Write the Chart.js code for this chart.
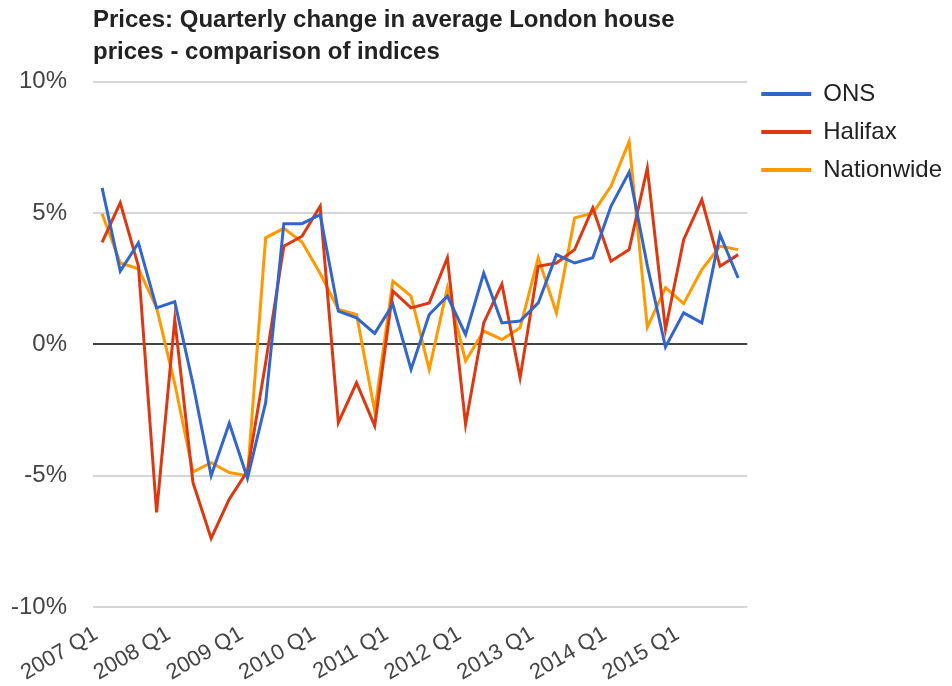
<!DOCTYPE html>
<html>
<head>
<meta charset="utf-8">
<script src="https://cdn.jsdelivr.net/npm/chart.js@4.4.1/dist/chart.umd.min.js"></script>
<style>
  html, body { margin: 0; padding: 0; background: #fff; }
  #wrap { width: 952px; height: 686px; position: relative; }
</style>
</head>
<body>
<div id="wrap"><canvas id="chart"></canvas></div>
<script>
// --- DATA ---

const quarters = [
    '2007 Q1', '2007 Q2', '2007 Q3', '2007 Q4',
    '2008 Q1', '2008 Q2', '2008 Q3', '2008 Q4',
    '2009 Q1', '2009 Q2', '2009 Q3', '2009 Q4',
    '2010 Q1', '2010 Q2', '2010 Q3', '2010 Q4',
    '2011 Q1', '2011 Q2', '2011 Q3', '2011 Q4',
    '2012 Q1', '2012 Q2', '2012 Q3', '2012 Q4',
    '2013 Q1', '2013 Q2', '2013 Q3', '2013 Q4',
    '2014 Q1', '2014 Q2', '2014 Q3', '2014 Q4',
    '2015 Q1', '2015 Q2', '2015 Q3', '2015 Q4'
];

const ons = [
    5.96, 2.79, 3.87, 1.39, 1.63, -1.5, -5.0, -3.0,
    -5.1, -2.22, 4.6, 4.6, 4.94, 1.27, 1.01, 0.42,
    1.52, -0.95, 1.14, 1.84, 0.38, 2.72, 0.82, 0.89,
    1.58, 3.42, 3.1, 3.3, 5.26, 6.56, 3.0, -0.1,
    1.2, 0.82, 4.18, 2.53
];

const halifax = [
    3.89, 5.39, 2.98, -6.4, 0.95, -5.26, -7.39, -5.89,
    -4.82, -0.7, 3.74, 4.12, 5.26, -2.98, -1.46, -3.1,
    2.03, 1.39, 1.58, 3.3, -3.04, 0.82, 2.3, -1.27,
    2.98, 3.1, 3.61, 5.2, 3.17, 3.61, 6.72, 0.57,
    3.99, 5.51, 2.98, 3.42
];

const nationwide = [
    4.98, 3.1, 2.88, 1.4, -1.5, -4.86, -4.5, -4.88,
    -5.0, 4.06, 4.42, 3.9, 2.7, 1.33, 1.14, -2.54,
    2.41, 1.84, -0.95, 2.16, -0.63, 0.51, 0.19, 0.63,
    3.3, 1.2, 4.82, 5.0, 6.02, 7.73, 0.65, 2.16,
    1.55, 2.85, 3.74, 3.61
];

const yTicks = [-10, -5, 0, 5, 10];

// --- CHART ---

const FONT = 'Arial, "Liberation Sans", sans-serif';
const PLOT_LEFT = 93;     // width kept for the y labels
const X_AXIS_HEIGHT = 79; // room under the plot for the slanted labels

function makeSeries(label, data, color) {
    return {
        label: label,
        data: data,
        borderColor: color,
        backgroundColor: color,
        borderWidth: 3,
        pointRadius: 0,
        tension: 0,
        fill: false
    };
}

const ctx = document.getElementById('chart').getContext('2d');

new Chart(ctx, {
    type: 'line',
    data: {
        labels: quarters,
        datasets: [
            makeSeries('ONS', ons, '#3366cc'),
            makeSeries('Halifax', halifax, '#dc3912'),
            makeSeries('Nationwide', nationwide, '#ff9900')
        ]
    },
    options: {
        responsive: true,
        maintainAspectRatio: false,
        animation: false,
        layout: { padding: 0 },
        plugins: {
            title: {
                display: true,
                fullSize: false,
                align: 'start',
                text: ['Prices: Quarterly change in average London house',
                       'prices - comparison of indices'],
                color: '#222',
                font: { family: FONT, size: 24, weight: 'bold', lineHeight: 1.33 },
                padding: { top: 4, bottom: 14 }
            },
            legend: {
                position: 'right',
                align: 'start',
                // empty title only pushes the items down to the plot top
                title: { display: true, text: '', font: { size: 10 }, padding: { top: 56, bottom: 0 } },
                labels: {
                    boxWidth: 50,
                    boxHeight: 4,
                    padding: 14,
                    color: '#222',
                    font: { family: FONT, size: 24 },
                    generateLabels: function (chart) {
                        const items = Chart.defaults.plugins.legend.labels.generateLabels(chart);
                        items.forEach(function (it) { it.lineWidth = 0; });
                        return items;
                    }
                }
            },
            tooltip: { enabled: false }
        },
        scales: {
            x: {
                offset: true,
                grid: { display: false },
                border: { display: false },
                // rotated labels may hang past the plot's left edge, like the original
                afterFit: function (axis) {
                    axis.paddingLeft = 0;
                    axis.paddingRight = 0;
                    axis.height = X_AXIS_HEIGHT;
                },
                ticks: {
                    autoSkip: false,
                    minRotation: 30,
                    maxRotation: 30,
                    padding: 6,
                    labelOffset: -6,
                    color: '#444',
                    font: { family: FONT, size: 22 },
                    callback: function (value, index) {
                        return index % 4 === 0 ? quarters[index] : '';
                    }
                }
            },
            y: {
                min: yTicks[0],
                max: yTicks[yTicks.length - 1],
                afterBuildTicks: function (axis) {
                    axis.ticks = yTicks.map(function (v) { return { value: v }; });
                },
                afterFit: function (axis) {
                    axis.width = PLOT_LEFT;
                },
                border: { display: false },
                grid: {
                    drawTicks: false,
                    lineWidth: 2,
                    color: function (c) {
                        return c.tick && c.tick.value === 0 ? '#444' : '#d6d6d6';
                    }
                },
                ticks: {
                    padding: 26,
                    color: '#444',
                    font: { family: FONT, size: 24 },
                    callback: function (v) { return v + '%'; }
                }
            }
        }
    }
});
</script>
</body>
</html>
